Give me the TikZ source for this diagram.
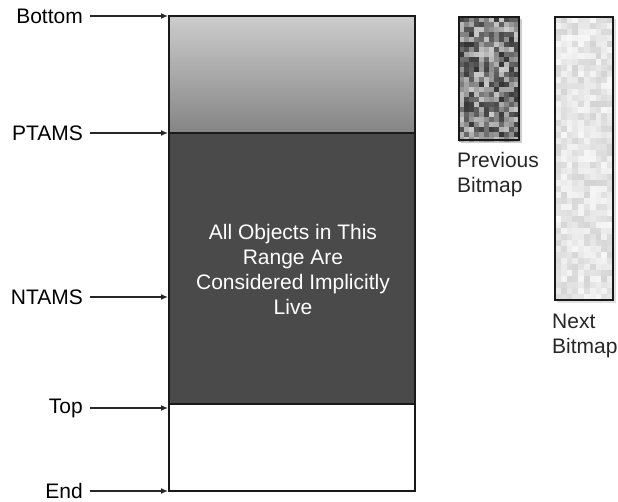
\documentclass[tikz,border=0pt]{standalone}
\usepackage{fontspec}
\setmainfont{Liberation Sans}
\usetikzlibrary{arrows.meta}
\begin{document}
\begin{tikzpicture}[x=1pt,y=-1pt,
  lbl/.style={anchor=east,font=\fontsize{21}{25}\selectfont,inner sep=0pt},
  ptr/.style={-{Latex[length=7pt,width=6pt]},line width=1.4pt,black!85},
  boxline/.style={line width=2pt,black!90},
  side/.style={anchor=north west,align=left,font=\fontsize{21}{25}\selectfont,inner sep=0pt,black!85}]
\useasboundingbox (0,0) rectangle (618,502);
% regions
\shade[top color=black!20,bottom color=black!48] (169,16) rectangle (415,133);
\fill[black!71] (169,133) rectangle (415,404);
\fill[white] (169,404) rectangle (415,491);
\draw[boxline] (169,16) rectangle (415,491);
\draw[boxline] (169,133) -- (415,133);
\draw[boxline] (169,404) -- (415,404);
% coordinates on box edge
\coordinate (cb) at (168,16);
\coordinate (cp) at (168,133);
\coordinate (cn) at (168,297);
\coordinate (ct) at (168,408);
\coordinate (ce) at (168,491);
% labels
\node[lbl] (lb) at (83,16) {Bottom};
\node[lbl] (lp) at (83,133) {PTAMS};
\node[lbl] (ln) at (83,297) {NTAMS};
\node[lbl] (lt) at (83,408) {Top};
\node[lbl] (le) at (83,491) {End};
\draw[ptr] (lb.east) ++(7,0) -- (cb);
\draw[ptr] (lp.east) ++(7,0) -- (cp);
\draw[ptr] (ln.east) ++(7,0) -- (cn);
\draw[ptr] (lt.east) ++(7,0) -- (ct);
\draw[ptr] (le.east) ++(7,0) -- (ce);
\node[align=center,text=white,inner sep=0pt,font=\fontsize{21}{25}\selectfont] (txt) at (293,269)
 {All Objects in This\\Range Are\\Considered Implicitly\\Live};
% previous bitmap
\pgfmathsetseed{7}
\fill[black!20] (461,19) rectangle (522,143);
\foreach \i in {0,...,11}{
  \foreach \j in {0,...,24}{
    \pgfmathsetmacro{\g}{20+rnd*60}
    \fill[black!\g] (459+\i*5,17+\j*5) rectangle ++(5,5);
  }}
\draw[line width=2.5pt,black!90] (459,17) rectangle (519,140);
% next bitmap
\fill[black!12] (557,19) rectangle (616,303);
\foreach \i in {0,...,9}{
  \foreach \j in {0,...,46}{
    \pgfmathsetmacro{\g}{3+rnd*14}
    \fill[black!\g] (555+\i*5.8,17+\j*6.03) rectangle ++(5.8,6.03);
  }}
\draw[line width=2.5pt,black!90] (555,17) rectangle (613,300);
\node[side] (prev) at (457,152) {Previous\\Bitmap};
\node[side] (next) at (552,314) {Next\\Bitmap};
\end{tikzpicture}
\end{document}
